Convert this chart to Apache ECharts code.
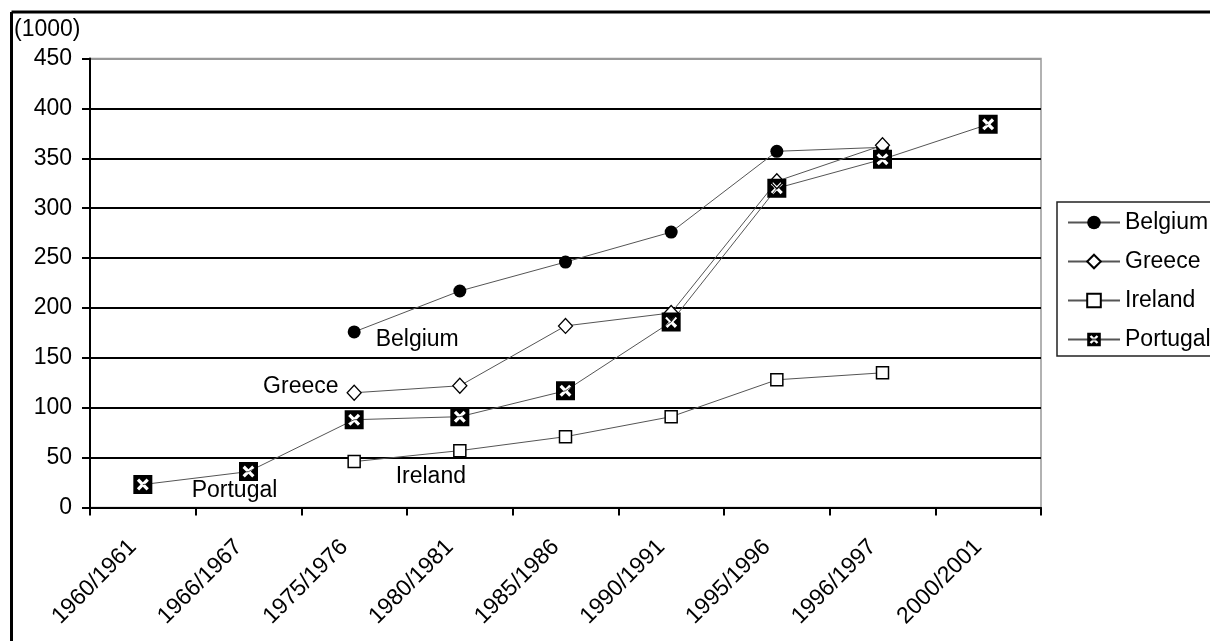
<!DOCTYPE html>
<html>
<head>
<meta charset="utf-8">
<script src="https://cdn.jsdelivr.net/npm/echarts@6/dist/echarts.min.js"></script>
<style>
  html, body { margin: 0; padding: 0; background: #fff; }
  #chart { width: 1210px; height: 641px; }
</style>
</head>
<body>
<div id="chart"></div>
<script>
// Survey years (category axis)
const years = ['1960/1961', '1966/1967', '1975/1976', '1980/1981', '1985/1986',
               '1990/1991', '1995/1996', '1996/1997', '2000/2001'];

// Values in thousands; null where no figure exists
const belgium  = [null, null, 176, 217, 246, 276, 357, 361, null];
const greece   = [null, null, 115, 122, 182, 195, 327, 363, null];
const ireland  = [null, null, 46, 57, 71, 91, 128, 135, null];
const portugal = [23, 36, 88, 91, 117, 186, 320, 349, 384];

const yTicks = { min: 0, max: 450, step: 50 };
const unitLabel = '(1000)';

const FONT = 'Liberation Sans, Arial, sans-serif';
const FS = 23;

// Black square with an X cut out of it
const crossBox = 'path://M0 0H20V20H0Z' +
  'M7.6 10L3.7 13.9L6.1 16.3L10 12.4L13.9 16.3L16.3 13.9L12.4 10L16.3 6.1L13.9 3.7L10 7.6L6.1 3.7L3.7 6.1Z';

// Attach the in-plot series name label to one point
function withLabel(values, idx, label) {
  return values.map((v, i) => {
    if (i !== idx) return v;
    return { value: v, label: Object.assign({
      show: true, formatter: '{a}', color: '#000',
      fontFamily: FONT, fontSize: FS
    }, label) };
  });
}

const lineStyle = { color: '#555', width: 1 };

const chart = echarts.init(document.getElementById('chart'), null, { renderer: 'canvas' });

chart.setOption({
  animation: false,
  backgroundColor: '#fff',
  textStyle: { fontFamily: FONT, color: '#000' },
  grid: {
    left: 90, right: 169, top: 58.5, bottom: 133.5,
    show: true, borderColor: '#999', borderWidth: 1.5, backgroundColor: 'transparent'
  },
  legend: {
    orient: 'vertical',
    left: 1057, top: 202,
    padding: [9, 60, 5, 10],
    itemWidth: 52, itemHeight: 17, itemGap: 16,
    borderColor: '#222', borderWidth: 1.5,
    textStyle: { fontFamily: FONT, fontSize: FS, color: '#000', lineHeight: 23 },
    data: ['Belgium', 'Greece', 'Ireland', 'Portugal']
  },
  xAxis: {
    type: 'category',
    data: years,
    boundaryGap: true,
    axisLine: { lineStyle: { color: '#000', width: 2 } },
    axisTick: { show: true, inside: false, length: 8, alignWithLabel: false,
                lineStyle: { color: '#000', width: 2 } },
    axisLabel: { rotate: 45, margin: 26, padding: [0, 14, 0, 0],
                 fontFamily: FONT, fontSize: FS, color: '#000', interval: 0 },
    splitLine: { show: false }
  },
  yAxis: {
    type: 'value',
    min: yTicks.min, max: yTicks.max, interval: yTicks.step,
    axisLine: { show: true, lineStyle: { color: '#000', width: 2 } },
    axisTick: { show: true, inside: false, length: 8, lineStyle: { color: '#000', width: 2 } },
    axisLabel: { margin: 18, fontFamily: FONT, fontSize: FS, color: '#000' },
    splitLine: { show: true, lineStyle: {
      color: ['#000', '#000', '#000', '#000', '#000', '#000', '#000', '#000', '#000', '#999'],
      width: 2 } }
  },
  series: [
    {
      name: 'Belgium', type: 'line',
      data: withLabel(belgium, 2, { position: 'right', offset: [10, 8] }),
      symbol: 'circle', symbolSize: 13,
      itemStyle: { color: '#000', borderColor: '#000', borderWidth: 0 },
      lineStyle
    },
    {
      name: 'Greece', type: 'line',
      data: withLabel(greece, 2, { position: 'left', offset: [-3, -6] }),
      symbol: 'diamond', symbolSize: [14, 15],
      itemStyle: { color: '#fff', borderColor: '#000', borderWidth: 1.3 },
      lineStyle
    },
    {
      name: 'Ireland', type: 'line',
      data: withLabel(ireland, 3, { position: 'bottom', offset: [-29, 3] }),
      symbol: 'rect', symbolSize: 12,
      itemStyle: { color: '#fff', borderColor: '#000', borderWidth: 1.5 },
      lineStyle
    },
    {
      name: 'Portugal', type: 'line',
      data: withLabel(portugal, 1, { position: 'bottom', offset: [-14, -7] }),
      symbol: crossBox, symbolSize: 19,
      itemStyle: { color: '#000' },
      lineStyle
    }
  ],
  graphic: [
    { type: 'line', shape: { x1: 11.5, y1: 12, x2: 1210, y2: 12 },
      style: { stroke: '#000', lineWidth: 3 }, z: 100 },
    { type: 'line', shape: { x1: 11.5, y1: 12, x2: 11.5, y2: 641 },
      style: { stroke: '#000', lineWidth: 3 }, z: 100 },
    { type: 'text', left: 14, top: 18,
      style: { text: unitLabel, fontFamily: FONT, fontSize: FS, fill: '#000' } }
  ]
});
</script>
</body>
</html>
